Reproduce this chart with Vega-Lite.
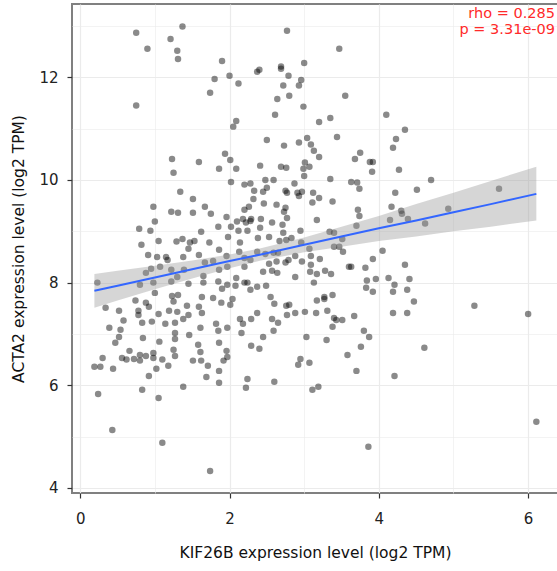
{
  "$schema": "https://vega.github.io/schema/vega-lite/v6.json",
  "width": 486,
  "height": 489,
  "autosize": {"type": "none"},
  "padding": {"left": 72, "top": 4, "right": 0, "bottom": 78},
  "background": "white",
  "datasets": {
    "points": [
      {"x":0.75,"y":12.87},{"x":0.90,"y":12.56},{"x":0.75,"y":11.45},{"x":0.79,"y":9.05},{"x":1.21,"y":12.75},
      {"x":1.37,"y":12.99},{"x":1.30,"y":12.52},{"x":1.31,"y":12.36},{"x":2.77,"y":12.91},{"x":3.47,"y":12.56},
      {"x":1.90,"y":12.32},{"x":2.37,"y":12.11},{"x":2.40,"y":12.15},{"x":1.80,"y":11.97},{"x":2.00,"y":12.03},
      {"x":2.12,"y":11.88},{"x":1.74,"y":11.70},{"x":2.09,"y":11.15},{"x":2.05,"y":11.04},{"x":2.50,"y":10.78},
      {"x":1.94,"y":10.51},{"x":2.01,"y":10.39},{"x":1.86,"y":10.22},{"x":2.09,"y":10.22},{"x":2.41,"y":10.28},
      {"x":1.23,"y":10.41},{"x":1.59,"y":10.35},{"x":2.69,"y":12.21},{"x":2.69,"y":12.17},{"x":3.00,"y":12.28},
      {"x":2.79,"y":12.03},{"x":2.96,"y":11.95},{"x":2.93,"y":11.84},{"x":2.72,"y":11.84},{"x":2.64,"y":11.58},
      {"x":2.80,"y":11.64},{"x":3.55,"y":11.64},{"x":2.99,"y":11.43},{"x":2.61,"y":11.27},{"x":3.20,"y":11.13},
      {"x":3.35,"y":11.21},{"x":4.10,"y":11.27},{"x":3.04,"y":10.82},{"x":3.44,"y":10.84},{"x":2.73,"y":10.67},
      {"x":2.93,"y":10.73},{"x":3.09,"y":10.69},{"x":3.13,"y":10.57},{"x":3.20,"y":10.45},{"x":3.68,"y":10.41},
      {"x":3.75,"y":10.53},{"x":3.88,"y":10.35},{"x":3.92,"y":10.35},{"x":2.69,"y":10.26},{"x":2.76,"y":10.24},
      {"x":3.01,"y":10.34},{"x":3.07,"y":10.26},{"x":2.99,"y":10.22},{"x":4.23,"y":10.80},{"x":4.19,"y":10.63},
      {"x":4.35,"y":10.98},{"x":4.70,"y":10.00},{"x":4.51,"y":9.81},{"x":5.61,"y":9.83},{"x":4.17,"y":9.48},
      {"x":4.30,"y":9.40},{"x":4.31,"y":9.34},{"x":4.39,"y":9.24},{"x":4.15,"y":9.22},{"x":4.62,"y":9.15},
      {"x":4.93,"y":9.44},{"x":4.35,"y":8.35},{"x":4.41,"y":8.07},{"x":4.38,"y":7.86},{"x":4.47,"y":7.63},
      {"x":4.38,"y":7.41},{"x":5.28,"y":7.55},{"x":6.00,"y":7.39},{"x":4.61,"y":6.73},{"x":6.11,"y":5.29},
      {"x":1.25,"y":10.14},{"x":2.02,"y":9.96},{"x":2.20,"y":9.91},{"x":2.28,"y":9.93},{"x":2.33,"y":9.79},
      {"x":2.48,"y":10.00},{"x":2.50,"y":9.85},{"x":1.34,"y":9.77},{"x":1.51,"y":9.63},{"x":1.67,"y":9.48},
      {"x":1.22,"y":9.38},{"x":1.31,"y":9.36},{"x":1.51,"y":9.36},{"x":1.75,"y":9.34},{"x":1.96,"y":9.28},
      {"x":0.98,"y":9.48},{"x":1.85,"y":9.09},{"x":2.02,"y":9.09},{"x":2.10,"y":9.19},{"x":2.18,"y":9.24},
      {"x":2.20,"y":9.42},{"x":2.26,"y":9.48},{"x":2.32,"y":9.63},{"x":2.45,"y":9.77},{"x":2.46,"y":9.54},
      {"x":2.29,"y":9.24},{"x":2.28,"y":9.20},{"x":2.22,"y":9.17},{"x":2.12,"y":9.01},{"x":2.24,"y":9.01},
      {"x":2.42,"y":9.24},{"x":2.41,"y":9.07},{"x":1.00,"y":9.19},{"x":0.94,"y":9.01},{"x":1.05,"y":8.81},
      {"x":1.29,"y":8.80},{"x":1.37,"y":8.85},{"x":1.53,"y":8.81},{"x":1.73,"y":8.78},{"x":1.62,"y":8.99},
      {"x":1.98,"y":8.89},{"x":2.14,"y":8.78},{"x":2.38,"y":8.87},{"x":2.53,"y":8.89},{"x":1.45,"y":8.66},
      {"x":1.47,"y":8.78},{"x":1.86,"y":8.64},{"x":1.96,"y":8.52},{"x":1.15,"y":8.50},{"x":1.17,"y":8.44},
      {"x":1.38,"y":8.50},{"x":1.59,"y":8.54},{"x":1.67,"y":8.39},{"x":1.78,"y":8.42},{"x":1.86,"y":8.25},
      {"x":1.97,"y":8.31},{"x":2.13,"y":8.60},{"x":2.20,"y":8.48},{"x":2.20,"y":8.31},{"x":2.28,"y":8.44},
      {"x":2.37,"y":8.60},{"x":2.48,"y":8.56},{"x":2.53,"y":8.37},{"x":2.45,"y":8.21},{"x":1.07,"y":8.31},
      {"x":1.22,"y":8.25},{"x":1.30,"y":8.11},{"x":1.39,"y":8.25},{"x":1.65,"y":8.13},{"x":2.09,"y":8.09},
      {"x":1.03,"y":8.50},{"x":0.95,"y":8.27},{"x":2.59,"y":10.00},{"x":2.87,"y":9.93},{"x":3.00,"y":10.08},
      {"x":3.35,"y":10.02},{"x":3.63,"y":9.96},{"x":3.71,"y":9.95},{"x":3.74,"y":9.83},{"x":3.91,"y":10.16},
      {"x":2.75,"y":9.79},{"x":2.77,"y":9.75},{"x":2.91,"y":9.75},{"x":2.97,"y":9.77},{"x":2.93,"y":9.69},
      {"x":3.12,"y":9.75},{"x":3.20,"y":9.65},{"x":3.11,"y":9.56},{"x":3.38,"y":9.58},{"x":2.63,"y":9.52},
      {"x":2.75,"y":9.46},{"x":2.73,"y":9.38},{"x":2.77,"y":9.26},{"x":3.17,"y":9.22},{"x":3.72,"y":9.42},
      {"x":3.74,"y":9.30},{"x":3.70,"y":9.11},{"x":2.57,"y":9.17},{"x":2.71,"y":9.13},{"x":2.72,"y":8.97},
      {"x":2.95,"y":9.01},{"x":3.34,"y":8.99},{"x":3.40,"y":8.97},{"x":2.67,"y":8.81},{"x":2.76,"y":8.83},
      {"x":2.83,"y":8.87},{"x":2.96,"y":8.78},{"x":3.51,"y":8.85},{"x":3.40,"y":8.70},{"x":3.07,"y":8.66},
      {"x":3.09,"y":8.52},{"x":4.05,"y":8.62},{"x":3.09,"y":8.35},{"x":2.97,"y":8.41},{"x":2.88,"y":8.52},
      {"x":2.79,"y":8.44},{"x":2.75,"y":8.39},{"x":2.63,"y":8.41},{"x":2.59,"y":8.58},{"x":2.65,"y":8.58},
      {"x":3.21,"y":8.46},{"x":3.47,"y":8.70},{"x":3.52,"y":8.60},{"x":3.60,"y":8.31},{"x":3.63,"y":8.31},
      {"x":3.82,"y":8.29},{"x":3.92,"y":8.46},{"x":3.08,"y":8.21},{"x":3.17,"y":8.17},{"x":3.28,"y":8.23},
      {"x":3.36,"y":8.17},{"x":2.57,"y":8.23},{"x":2.64,"y":8.19},{"x":2.88,"y":8.11},{"x":4.27,"y":10.20},
      {"x":4.22,"y":9.75},{"x":3.96,"y":8.07},{"x":4.13,"y":8.09},{"x":0.98,"y":8.00},{"x":1.00,"y":7.80},
      {"x":1.22,"y":8.02},{"x":1.45,"y":7.98},{"x":1.65,"y":8.00},{"x":1.85,"y":8.02},{"x":1.97,"y":7.96},
      {"x":2.08,"y":7.94},{"x":2.24,"y":8.00},{"x":2.28,"y":7.86},{"x":2.37,"y":7.92},{"x":2.49,"y":7.94},
      {"x":1.23,"y":7.74},{"x":1.31,"y":7.76},{"x":1.25,"y":7.63},{"x":1.63,"y":7.72},{"x":1.78,"y":7.70},
      {"x":1.89,"y":7.61},{"x":2.04,"y":7.68},{"x":2.01,"y":7.57},{"x":1.43,"y":7.55},{"x":1.19,"y":7.45},
      {"x":1.30,"y":7.43},{"x":1.05,"y":7.39},{"x":1.45,"y":7.37},{"x":1.59,"y":7.53},{"x":1.63,"y":7.41},
      {"x":1.38,"y":7.29},{"x":0.96,"y":7.24},{"x":1.14,"y":7.20},{"x":1.27,"y":7.22},{"x":1.61,"y":7.12},
      {"x":1.82,"y":7.20},{"x":1.85,"y":7.06},{"x":1.97,"y":7.12},{"x":2.14,"y":7.29},{"x":2.18,"y":7.20},
      {"x":2.29,"y":7.29},{"x":2.37,"y":7.41},{"x":2.16,"y":7.02},{"x":2.45,"y":6.94},{"x":1.27,"y":7.02},
      {"x":1.27,"y":6.90},{"x":1.46,"y":6.98},{"x":1.06,"y":6.85},{"x":1.58,"y":6.79},{"x":1.61,"y":6.65},
      {"x":1.86,"y":6.83},{"x":1.96,"y":6.67},{"x":1.97,"y":6.55},{"x":1.92,"y":6.48},{"x":2.29,"y":6.77},
      {"x":2.40,"y":6.71},{"x":0.98,"y":6.63},{"x":1.25,"y":6.69},{"x":1.27,"y":6.57},{"x":1.10,"y":6.50},
      {"x":1.18,"y":6.38},{"x":1.51,"y":6.48},{"x":1.62,"y":6.48},{"x":1.71,"y":6.38},{"x":1.02,"y":6.32},
      {"x":1.86,"y":6.28},{"x":1.69,"y":6.16},{"x":1.86,"y":6.05},{"x":1.38,"y":5.97},{"x":2.24,"y":6.12},
      {"x":2.22,"y":5.95},{"x":1.05,"y":5.75},{"x":1.90,"y":7.88},{"x":2.20,"y":8.00},{"x":0.98,"y":6.53},
      {"x":3.13,"y":8.00},{"x":3.84,"y":8.04},{"x":3.83,"y":7.90},{"x":3.92,"y":7.82},{"x":4.21,"y":7.96},
      {"x":4.19,"y":7.82},{"x":2.60,"y":7.59},{"x":2.55,"y":7.72},{"x":2.76,"y":7.55},{"x":2.80,"y":7.57},
      {"x":2.77,"y":7.37},{"x":2.88,"y":7.41},{"x":3.01,"y":7.43},{"x":3.16,"y":7.41},{"x":3.31,"y":7.45},
      {"x":3.17,"y":7.65},{"x":3.27,"y":7.72},{"x":3.27,"y":7.68},{"x":3.38,"y":7.76},{"x":3.67,"y":7.35},
      {"x":3.40,"y":7.31},{"x":3.43,"y":7.27},{"x":3.51,"y":7.27},{"x":3.38,"y":7.14},{"x":2.57,"y":7.29},
      {"x":2.65,"y":7.22},{"x":2.59,"y":7.06},{"x":3.03,"y":6.94},{"x":3.30,"y":6.88},{"x":3.80,"y":7.06},
      {"x":3.87,"y":6.94},{"x":3.76,"y":6.75},{"x":4.19,"y":7.41},{"x":3.58,"y":6.59},{"x":2.95,"y":6.51},
      {"x":2.92,"y":6.40},{"x":3.07,"y":6.44},{"x":3.70,"y":6.28},{"x":4.21,"y":6.18},{"x":2.60,"y":6.07},
      {"x":3.11,"y":5.91},{"x":3.19,"y":5.97},{"x":3.86,"y":4.80},{"x":0.23,"y":8.00},{"x":0.34,"y":7.51},
      {"x":0.52,"y":7.45},{"x":0.58,"y":7.26},{"x":0.39,"y":7.12},{"x":0.54,"y":7.08},{"x":0.52,"y":6.94},
      {"x":0.47,"y":6.83},{"x":0.78,"y":7.45},{"x":0.78,"y":7.37},{"x":0.83,"y":7.22},{"x":0.84,"y":6.92},
      {"x":0.74,"y":7.65},{"x":0.92,"y":7.53},{"x":0.88,"y":7.61},{"x":0.82,"y":8.74},{"x":0.91,"y":8.54},
      {"x":0.88,"y":8.19},{"x":0.80,"y":7.96},{"x":0.30,"y":6.53},{"x":0.19,"y":6.36},{"x":0.27,"y":6.36},
      {"x":0.44,"y":6.32},{"x":0.66,"y":6.67},{"x":0.56,"y":6.53},{"x":0.62,"y":6.50},{"x":0.72,"y":6.51},
      {"x":0.80,"y":6.48},{"x":0.80,"y":6.59},{"x":0.88,"y":6.57},{"x":0.92,"y":6.18},{"x":0.24,"y":5.83},
      {"x":0.43,"y":5.13},{"x":0.83,"y":5.91},{"x":1.10,"y":4.88},{"x":1.74,"y":4.33}
    ],
    "fit": [
      {"x":0.19,"lo":7.51,"hi":8.17,"fit":7.84},
      {"x":0.5,"lo":7.65,"hi":8.23,"fit":7.94},
      {"x":1.0,"lo":7.87,"hi":8.33,"fit":8.10},
      {"x":1.5,"lo":8.08,"hi":8.43,"fit":8.26},
      {"x":2.0,"lo":8.28,"hi":8.55,"fit":8.42},
      {"x":2.42,"lo":8.43,"hi":8.67,"fit":8.55},
      {"x":3.0,"lo":8.59,"hi":8.88,"fit":8.74},
      {"x":3.5,"lo":8.70,"hi":9.09,"fit":8.90},
      {"x":4.0,"lo":8.81,"hi":9.30,"fit":9.06},
      {"x":4.5,"lo":8.90,"hi":9.53,"fit":9.21},
      {"x":5.0,"lo":9.00,"hi":9.75,"fit":9.37},
      {"x":5.5,"lo":9.09,"hi":9.98,"fit":9.53},
      {"x":6.11,"lo":9.21,"hi":10.26,"fit":9.73}
    ]
  },
  "layer": [
    {
      "data": {"name": "points"},
      "mark": {"type": "circle", "size": 42, "color": "#000000", "opacity": 0.46},
      "encoding": {
        "x": {
          "field": "x", "type": "quantitative",
          "title": "KIF26B expression level (log2 TPM)",
          "scale": {"domain": [-0.11, 6.4], "nice": false, "zero": false},
          "axis": {
            "values": [0, 1, 2, 3, 4, 5, 6],
            "format": "d",
            "labelExpr": "datum.value % 2 == 0 ? datum.label : ''",
            "tickOpacity": {"condition": {"test": "datum.value % 2 != 0", "value": 0}, "value": 1},
            "gridWidth": {"condition": {"test": "datum.value % 2 != 0", "value": 0.6}, "value": 1.2},
            "labelPadding": 13,
            "titlePadding": 19
          }
        },
        "y": {
          "field": "y", "type": "quantitative",
          "title": "ACTA2 expression level (log2 TPM)",
          "scale": {"domain": [3.9, 13.43], "nice": false, "zero": false},
          "axis": {
            "values": [4, 5, 6, 7, 8, 9, 10, 11, 12, 13],
            "format": "d",
            "labelExpr": "datum.value % 2 == 0 ? datum.label : ''",
            "tickOpacity": {"condition": {"test": "datum.value % 2 != 0", "value": 0}, "value": 1},
            "gridWidth": {"condition": {"test": "datum.value % 2 != 0", "value": 0.6}, "value": 1.2},
            "labelPadding": 9,
            "titlePadding": 12
          }
        }
      }
    },
    {
      "data": {"name": "fit"},
      "mark": {"type": "area", "color": "#999999", "opacity": 0.4},
      "encoding": {
        "x": {"field": "x", "type": "quantitative", "title": "KIF26B expression level (log2 TPM)"},
        "y": {"field": "lo", "type": "quantitative", "title": "ACTA2 expression level (log2 TPM)"},
        "y2": {"field": "hi"}
      }
    },
    {
      "data": {"name": "fit"},
      "mark": {"type": "line", "color": "#3366FF", "strokeWidth": 2},
      "encoding": {
        "x": {"field": "x", "type": "quantitative", "title": "KIF26B expression level (log2 TPM)"},
        "y": {"field": "fit", "type": "quantitative", "title": "ACTA2 expression level (log2 TPM)"}
      }
    },
    {
      "data": {"values": [{}]},
      "mark": {"type": "text", "text": "rho = 0.285", "align": "right", "baseline": "top", "fontSize": 14.5, "color": "#ff2a2a", "font": "DejaVu Sans"},
      "encoding": {
        "x": {"datum": 6.36},
        "y": {"datum": 13.38}
      }
    },
    {
      "data": {"values": [{}]},
      "mark": {"type": "text", "text": "p = 3.31e-09", "align": "right", "baseline": "top", "fontSize": 14.5, "color": "#ff2a2a", "font": "DejaVu Sans"},
      "encoding": {
        "x": {"datum": 6.36},
        "y": {"datum": 13.05}
      }
    }
  ],
  "config": {
    "font": "DejaVu Sans",
    "view": {"stroke": "#808080", "strokeWidth": 2},
    "axis": {
      "domain": false,
      "grid": true,
      "gridColor": "#ebebeb",
      "tickColor": "#333333",
      "tickSize": 5,
      "tickWidth": 1.2,
      "labelFont": "DejaVu Sans",
      "labelFontSize": 15,
      "labelColor": "#222222",
      "titleFont": "DejaVu Sans",
      "titleFontSize": 15.5,
      "titleFontWeight": "normal",
      "titleColor": "#111111"
    }
  }
}
